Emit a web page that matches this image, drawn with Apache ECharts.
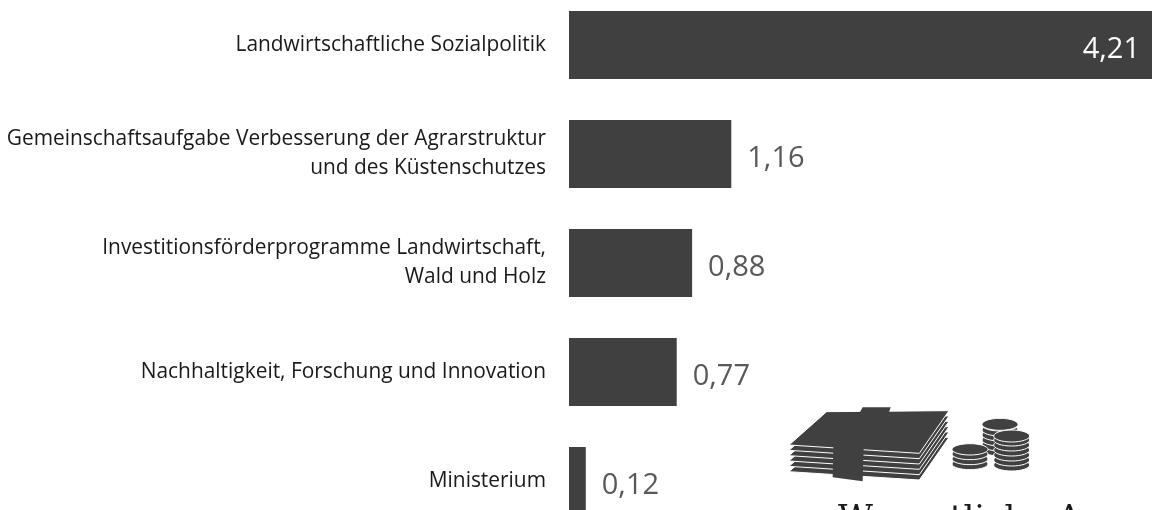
<!DOCTYPE html>
<html><head><meta charset="UTF-8"><title>Ausgaben</title>
<style>html,body{margin:0;padding:0;background:#fff}#chart{width:1152px;height:510px}</style>
</head><body>
<div id="chart"></div>
<script src="https://cdn.jsdelivr.net/npm/echarts@6/dist/echarts.min.js"></script>
<script>
const categories = [
  'Landwirtschaftliche Sozialpolitik',
  'Gemeinschaftsaufgabe Verbesserung der Agrarstruktur\nund des Küstenschutzes',
  'Investitionsförderprogramme Landwirtschaft,\nWald und Holz',
  'Nachhaltigkeit, Forschung und Innovation',
  'Ministerium'
];
const values = [4.21, 1.16, 0.88, 0.77, 0.12];
const dark = '#404040';

// Icon outlines (zoomed crop coordinates)
const toPage = p => [770 + p[0] / 3, 390 + p[1] / 3];
const face = [[57, 165], [170, 65], [537, 62], [448, 190]];
const layerOffsets = [80, 64, 48, 32, 16];
const icon = [];
layerOffsets.forEach(d => {
  icon.push({ type: 'polygon', shape: { points: face.map(p => toPage([p[0], p[1] + d])) },
    style: { fill: dark, stroke: '#fff', lineWidth: 1 } });
});
icon.push({ type: 'polygon', shape: { points: face.map(toPage) }, style: { fill: dark, stroke: '#fff', lineWidth: 1 } });
// paper band
icon.push({ type: 'polygon', shape: { points: [[190, 170], [188, 262], [278, 274], [281, 170]].map(toPage) }, style: { fill: dark } });
icon.push({ type: 'polygon', shape: { points: [[268, 70], [278, 52], [362, 52], [356, 70]].map(toPage) }, style: { fill: dark } });
// coins: [center x, top y, bottom y, rx, ry]
const coinStacks = [[690, 103, 180, 54, 18], [600, 178, 222, 54, 17], [725, 138, 225, 54, 18]];
coinStacks.forEach(s => {
  for (let y = s[2]; y >= s[1]; y -= 15) {
    const c = toPage([s[0], y]);
    icon.push({ type: 'ellipse', shape: { cx: c[0], cy: c[1], rx: s[3] / 3, ry: s[4] / 3 }, style: { fill: dark, stroke: '#fff', lineWidth: 1 } });
  }
  const t = toPage([s[0], s[1]]);
  icon.push({ type: 'ellipse', shape: { cx: t[0], cy: t[1], rx: s[3] / 3, ry: s[4] / 3 }, style: { fill: dark, stroke: '#fff', lineWidth: 1 } });
});

const chart = echarts.init(document.getElementById('chart'), null, { renderer: 'canvas' });
chart.setOption({
  animation: false,
  grid: { left: 569, right: -6, top: -9.5, bottom: -25.5, outerBoundsMode: 'none' },
  xAxis: { type: 'value', min: 0, max: 4.21, show: false },
  yAxis: {
    type: 'category', inverse: true, data: categories,
    axisLine: { show: false }, axisTick: { show: false },
    axisLabel: { color: '#1a1a1a', fontFamily: 'Open Sans', fontSize: 20.9, lineHeight: 29, margin: 23, align: 'right', padding: [3, 0, 0, 0] }
  },
  series: [{
    type: 'bar', data: values.map((v, i) => ({
      value: v,
      label: { position: i === 0 ? 'insideRight' : 'right', color: i === 0 ? '#fff' : '#595959', distance: 17 }
    })),
    barWidth: 68, clip: false,
    itemStyle: { color: dark },
    label: { show: true, fontFamily: 'Open Sans', fontSize: 29, offset: [-1, 5], formatter: p => p.value.toFixed(2).replace('.', ',') }
  }],
  graphic: icon.concat([{
    type: 'text', left: 838, top: 503,
    style: { text: 'Wesentliche A', font: '34px "DejaVu Serif"', fill: '#1a1a1a' }
  }])
});
</script>
</body></html>
